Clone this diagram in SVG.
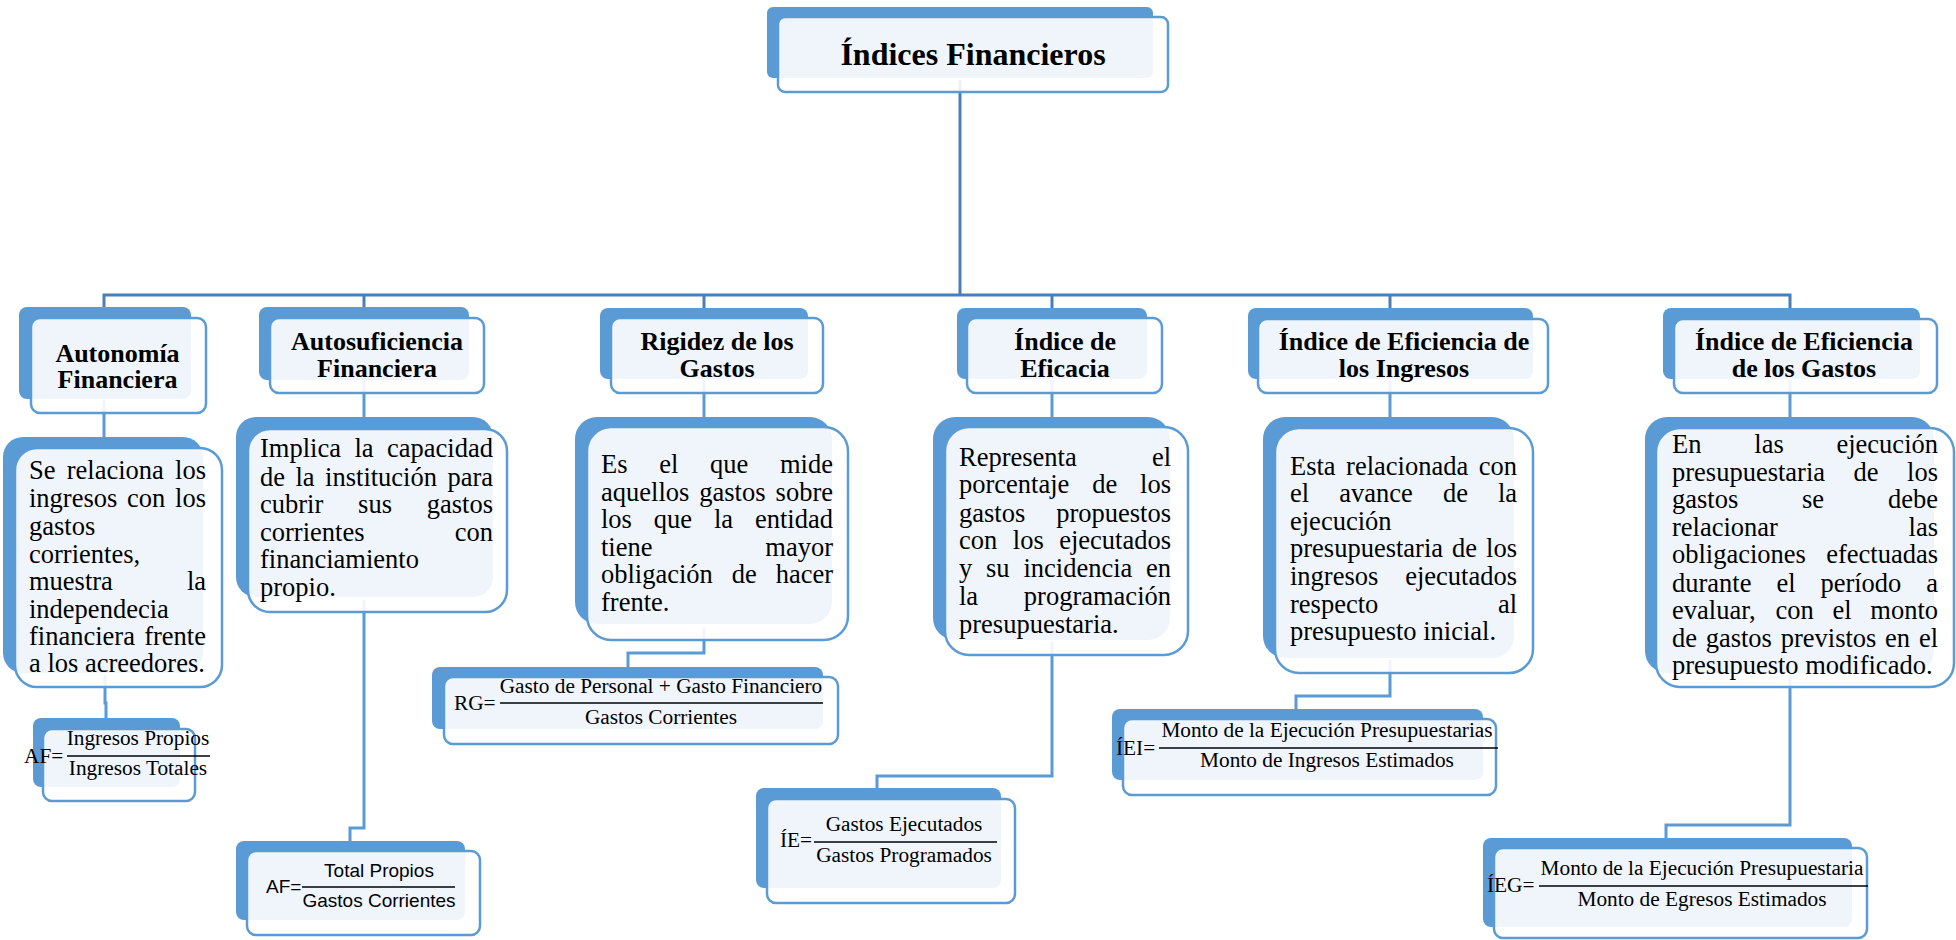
<svg xmlns="http://www.w3.org/2000/svg" width="1956" height="940" viewBox="0 0 1956 940">
<style>
.bk{fill:#5B9BD5;}
.fr{fill:#FFFFFF;fill-opacity:0.9;stroke:#5B9BD5;stroke-width:2.5;}
.c1{fill:none;stroke:#4A7EBB;stroke-width:3;}
.c2{fill:none;stroke:#5B9BD5;stroke-width:3;}
.t{font-family:"Liberation Serif","Times New Roman",serif;font-weight:bold;font-size:32px;text-anchor:middle;fill:#000;}
.h{font-family:"Liberation Serif","Times New Roman",serif;font-weight:bold;font-size:26px;text-anchor:middle;fill:#000;}
.d{font-family:"Liberation Serif","Times New Roman",serif;font-size:26.5px;fill:#000;}
.e{text-anchor:end;}
.f{font-family:"Liberation Serif","Times New Roman",serif;font-size:21.3px;fill:#000;}
.m{text-anchor:middle;}
.s{font-family:"Liberation Sans",Arial,sans-serif;font-size:19px;fill:#000;}
.fl{stroke:#000;stroke-width:1.6;}
</style>
<rect width="1956" height="940" fill="#FFFFFF"/>
<g id="connectors">
<polyline class="c1" points="960,80 960,295"/>
<polyline class="c1" points="104,318 104,295 1790,295 1790,318"/>
<line class="c1" x1="364" y1="295" x2="364" y2="318"/>
<line class="c1" x1="704" y1="295" x2="704" y2="318"/>
<line class="c1" x1="1052" y1="295" x2="1052" y2="318"/>
<line class="c1" x1="1390" y1="295" x2="1390" y2="318"/>
<line class="c2" x1="104" y1="400" x2="104" y2="440"/>
<line class="c2" x1="364" y1="380" x2="364" y2="420"/>
<line class="c2" x1="704" y1="380" x2="704" y2="420"/>
<line class="c2" x1="1052" y1="380" x2="1052" y2="420"/>
<line class="c2" x1="1390" y1="380" x2="1390" y2="420"/>
<line class="c2" x1="1790" y1="380" x2="1790" y2="420"/>
<polyline class="c2" points="105,675 105,703 106,703 106,720"/>
<polyline class="c2" points="364,600 364,828 350,828 350,843"/>
<polyline class="c2" points="704,628 704,653 628,653 628,669"/>
<polyline class="c2" points="1052,642 1052,776 877,776 877,790"/>
<polyline class="c2" points="1390,660 1390,696 1296,696 1296,711"/>
<polyline class="c2" points="1790,675 1790,825 1666,825 1666,840"/>
</g>
<g id="title">
<rect class="bk" x="767" y="7" width="386" height="71" rx="6"/>
<rect class="fr" x="778" y="17" width="390" height="75" rx="7"/>
<text class="t" x="973" y="65">Índices Financieros</text>
</g>
<g id="h1">
<rect class="bk" x="19" y="307" width="172" height="92" rx="8"/>
<rect class="fr" x="31" y="318" width="175" height="95" rx="9"/>
<text class="h" x="117.5" y="362">Autonomía</text>
<text class="h" x="117.5" y="388">Financiera</text>
</g>
<g id="h2">
<rect class="bk" x="259" y="307" width="210" height="73" rx="8"/>
<rect class="fr" x="270" y="318" width="214" height="75" rx="9"/>
<text class="h" x="377" y="350">Autosuficiencia</text>
<text class="h" x="377" y="377">Financiera</text>
</g>
<g id="h3">
<rect class="bk" x="600" y="308" width="208" height="71" rx="8"/>
<rect class="fr" x="611" y="318" width="212" height="75" rx="9"/>
<text class="h" x="717" y="350">Rigidez de los</text>
<text class="h" x="717" y="377">Gastos</text>
</g>
<g id="h4">
<rect class="bk" x="957" y="308" width="190" height="71" rx="8"/>
<rect class="fr" x="967" y="318" width="195" height="75" rx="9"/>
<text class="h" x="1065" y="350">Índice de</text>
<text class="h" x="1065" y="377">Eficacia</text>
</g>
<g id="h5">
<rect class="bk" x="1248" y="308" width="285" height="71" rx="8"/>
<rect class="fr" x="1258" y="319" width="290" height="74" rx="9"/>
<text class="h" x="1404" y="350">Índice de Eficiencia de</text>
<text class="h" x="1404" y="377">los Ingresos</text>
</g>
<g id="h6">
<rect class="bk" x="1663" y="308" width="257" height="71" rx="8"/>
<rect class="fr" x="1674" y="319" width="263" height="74" rx="9"/>
<text class="h" x="1804" y="350">Índice de Eficiencia</text>
<text class="h" x="1804" y="377">de los Gastos</text>
</g>
<g id="d1">
<rect class="bk" x="3" y="437" width="200" height="236" rx="20"/>
<rect class="fr" x="15" y="448" width="207" height="239" rx="22"/>
<text class="d" y="479"><tspan x="29">Se</tspan><tspan x="66.75">relaciona</tspan><tspan x="206" class="e">los</tspan></text>
<text class="d" y="507"><tspan x="29">ingresos</tspan><tspan x="127">con</tspan><tspan x="206" class="e">los</tspan></text>
<text class="d" x="29" y="535">gastos</text>
<text class="d" x="29" y="563">corrientes,</text>
<text class="d" y="590"><tspan x="29">muestra</tspan><tspan x="206" class="e">la</tspan></text>
<text class="d" x="29" y="618">independecia</text>
<text class="d" y="645"><tspan x="29">financiera</tspan><tspan x="206" class="e">frente</tspan></text>
<text class="d" x="29" y="672">a los acreedores.</text>
</g>
<g id="d2">
<rect class="bk" x="236" y="417" width="257" height="180" rx="20"/>
<rect class="fr" x="248" y="429" width="259" height="183" rx="22"/>
<text class="d" y="457"><tspan x="260">Implica</tspan><tspan x="354.5">la</tspan><tspan x="493" class="e">capacidad</tspan></text>
<text class="d" y="486"><tspan x="260">de</tspan><tspan x="295.5">la</tspan><tspan x="325.1">institución</tspan><tspan x="493" class="e">para</tspan></text>
<text class="d" y="513"><tspan x="260">cubrir</tspan><tspan x="358.1">sus</tspan><tspan x="493" class="e">gastos</tspan></text>
<text class="d" y="541"><tspan x="260">corrientes</tspan><tspan x="493" class="e">con</tspan></text>
<text class="d" x="260" y="568">financiamiento</text>
<text class="d" x="260" y="596">propio.</text>
</g>
<g id="d3">
<rect class="bk" x="575" y="417" width="257" height="207" rx="22"/>
<rect class="fr" x="587" y="427" width="261" height="213" rx="24"/>
<text class="d" y="473"><tspan x="601">Es</tspan><tspan x="659.2">el</tspan><tspan x="710">que</tspan><tspan x="833" class="e">mide</tspan></text>
<text class="d" y="501"><tspan x="601">aquellos</tspan><tspan x="699.3">gastos</tspan><tspan x="833" class="e">sobre</tspan></text>
<text class="d" y="528"><tspan x="601">los</tspan><tspan x="653.8">que</tspan><tspan x="714">la</tspan><tspan x="833" class="e">entidad</tspan></text>
<text class="d" y="556"><tspan x="601">tiene</tspan><tspan x="833" class="e">mayor</tspan></text>
<text class="d" y="583"><tspan x="601">obligación</tspan><tspan x="731.8">de</tspan><tspan x="833" class="e">hacer</tspan></text>
<text class="d" x="601" y="611">frente.</text>
</g>
<g id="d4">
<rect class="bk" x="933" y="417" width="237" height="223" rx="22"/>
<rect class="fr" x="945" y="427" width="243" height="228" rx="24"/>
<text class="d" y="466"><tspan x="959">Representa</tspan><tspan x="1171" class="e">el</tspan></text>
<text class="d" y="493"><tspan x="959">porcentaje</tspan><tspan x="1092.2">de</tspan><tspan x="1171" class="e">los</tspan></text>
<text class="d" y="522"><tspan x="959">gastos</tspan><tspan x="1171" class="e">propuestos</tspan></text>
<text class="d" y="549"><tspan x="959">con</tspan><tspan x="1012.8">los</tspan><tspan x="1171" class="e">ejecutados</tspan></text>
<text class="d" y="577"><tspan x="959">y</tspan><tspan x="986">su</tspan><tspan x="1023.4">incidencia</tspan><tspan x="1171" class="e">en</tspan></text>
<text class="d" y="605"><tspan x="959">la</tspan><tspan x="1171" class="e">programación</tspan></text>
<text class="d" x="959" y="633">presupuestaria.</text>
</g>
<g id="d5">
<rect class="bk" x="1263" y="417" width="251" height="241" rx="22"/>
<rect class="fr" x="1275" y="428" width="258" height="245" rx="24"/>
<text class="d" y="475"><tspan x="1290">Esta</tspan><tspan x="1346.1">relacionada</tspan><tspan x="1517" class="e">con</tspan></text>
<text class="d" y="502"><tspan x="1290">el</tspan><tspan x="1339.2">avance</tspan><tspan x="1442.9">de</tspan><tspan x="1517" class="e">la</tspan></text>
<text class="d" x="1290" y="530">ejecución</text>
<text class="d" y="557"><tspan x="1290">presupuestaria</tspan><tspan x="1452.1">de</tspan><tspan x="1517" class="e">los</tspan></text>
<text class="d" y="585"><tspan x="1290">ingresos</tspan><tspan x="1517" class="e">ejecutados</tspan></text>
<text class="d" y="613"><tspan x="1290">respecto</tspan><tspan x="1517" class="e">al</tspan></text>
<text class="d" x="1290" y="640">presupuesto inicial.</text>
</g>
<g id="d6">
<rect class="bk" x="1645" y="417" width="289" height="256" rx="22"/>
<rect class="fr" x="1656" y="428" width="298" height="259" rx="24"/>
<text class="d" y="453"><tspan x="1672">En</tspan><tspan x="1754.3">las</tspan><tspan x="1938" class="e">ejecución</tspan></text>
<text class="d" y="481"><tspan x="1672">presupuestaria</tspan><tspan x="1853.6">de</tspan><tspan x="1938" class="e">los</tspan></text>
<text class="d" y="508"><tspan x="1672">gastos</tspan><tspan x="1802">se</tspan><tspan x="1938" class="e">debe</tspan></text>
<text class="d" y="536"><tspan x="1672">relacionar</tspan><tspan x="1938" class="e">las</tspan></text>
<text class="d" y="563"><tspan x="1672">obligaciones</tspan><tspan x="1938" class="e">efectuadas</tspan></text>
<text class="d" y="592"><tspan x="1672">durante</tspan><tspan x="1776.4">el</tspan><tspan x="1820.4">período</tspan><tspan x="1938" class="e">a</tspan></text>
<text class="d" y="619"><tspan x="1672">evaluar,</tspan><tspan x="1775.4">con</tspan><tspan x="1832.5">el</tspan><tspan x="1938" class="e">monto</tspan></text>
<text class="d" y="647"><tspan x="1672">de</tspan><tspan x="1705.7">gastos</tspan><tspan x="1780.7">previstos</tspan><tspan x="1885.1">en</tspan><tspan x="1938" class="e">el</tspan></text>
<text class="d" x="1672" y="674">presupuesto modificado.</text>
</g>
<g id="f1">
<rect class="bk" x="33" y="718" width="147" height="69" rx="8"/>
<rect class="fr" x="43" y="729" width="152" height="72" rx="9"/>
<text class="f" x="24" y="763">AF=</text>
<line class="fl" x1="67" y1="756" x2="210" y2="756"/>
<text class="f m" x="138" y="745">Ingresos Propios</text>
<text class="f m" x="138" y="775">Ingresos Totales</text>
</g>
<g id="f2">
<rect class="bk" x="236" y="841" width="229" height="79" rx="8"/>
<rect class="fr" x="247" y="851" width="233" height="84" rx="9"/>
<text class="s" x="266" y="893">AF=</text>
<line class="fl" x1="302" y1="887" x2="455" y2="887"/>
<text class="s m" x="379" y="877">Total Propios</text>
<text class="s m" x="379" y="907">Gastos Corrientes</text>
</g>
<g id="f3">
<rect class="bk" x="432" y="667" width="391" height="62" rx="8"/>
<rect class="fr" x="444" y="677" width="394" height="67" rx="9"/>
<text class="f" x="454" y="710">RG=</text>
<line class="fl" x1="500" y1="703" x2="823" y2="703"/>
<text class="f m" x="661" y="693">Gasto de Personal + Gasto Financiero</text>
<text class="f m" x="661" y="724">Gastos Corrientes</text>
</g>
<g id="f4">
<rect class="bk" x="756" y="788" width="245" height="100" rx="8"/>
<rect class="fr" x="767" y="799" width="248" height="104" rx="9"/>
<text class="f" x="780" y="847">ÍE=</text>
<line class="fl" x1="814" y1="842" x2="997" y2="842"/>
<text class="f m" x="904" y="831">Gastos Ejecutados</text>
<text class="f m" x="904" y="862">Gastos Programados</text>
</g>
<g id="f5">
<rect class="bk" x="1112" y="709" width="371" height="71" rx="8"/>
<rect class="fr" x="1123" y="719" width="373" height="76" rx="9"/>
<text class="f" x="1116" y="755">ÍEI=</text>
<line class="fl" x1="1159" y1="748" x2="1498" y2="748"/>
<text class="f m" x="1327" y="737">Monto de la Ejecución Presupuestarias</text>
<text class="f m" x="1327" y="767">Monto de Ingresos Estimados</text>
</g>
<g id="f6">
<rect class="bk" x="1483" y="838" width="369" height="89" rx="8"/>
<rect class="fr" x="1494" y="848" width="373" height="90" rx="9"/>
<text class="f" x="1487" y="892">ÍEG=</text>
<line class="fl" x1="1539" y1="886" x2="1868" y2="886"/>
<text class="f m" x="1702" y="875">Monto de la Ejecución Presupuestaria</text>
<text class="f m" x="1702" y="906">Monto de Egresos Estimados</text>
</g>
</svg>
